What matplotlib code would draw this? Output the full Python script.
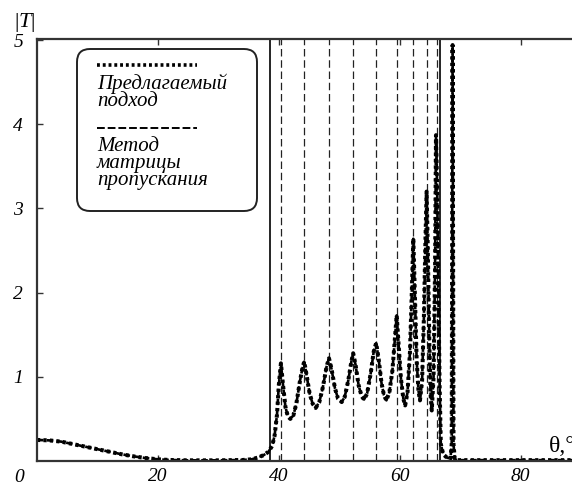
import matplotlib.pyplot as plt
from matplotlib.patches import FancyBboxPatch
from matplotlib.lines import Line2D

plt.rcParams['font.family'] = ['Liberation Serif', 'DejaVu Serif']
plt.rcParams['mathtext.fontset'] = 'custom'
plt.rcParams['mathtext.rm'] = 'Liberation Serif'
plt.rcParams['mathtext.it'] = 'Liberation Serif:italic'

# |T| versus incidence angle
theta = [0, 2, 4, 6, 8, 10, 12, 14, 16, 18, 20, 22, 25, 30, 34, 35.5, 36.5,
         37.5, 38.3, 38.9, 39.3, 39.7, 40.0, 40.35, 40.7, 41.1, 41.5, 41.9,
         42.4, 42.9, 43.5, 43.9, 44.2, 44.6, 45.1, 45.6, 46.1, 46.7, 47.3,
         47.9, 48.3, 48.7, 49.3, 49.8, 50.4, 50.9, 51.5, 52.0, 52.3, 52.7,
         53.2, 53.7, 54.1, 54.6, 55.2, 55.7, 56.1, 56.5, 57.0, 57.4, 57.8,
         58.3, 58.8, 59.2, 59.5, 59.8, 60.2, 60.6, 60.9, 61.3, 61.7, 62.0,
         62.25, 62.5, 62.8, 63.1, 63.35, 63.7, 64.0, 64.25, 64.45, 64.65,
         64.9, 65.1, 65.3, 65.6, 65.85, 66.0, 66.2, 66.4, 66.6, 66.8, 67.2,
         67.8, 68.4, 68.6, 68.75, 68.9, 69.1, 69.4, 70, 75, 80, 88.5]
t_abs = [0.25, 0.245, 0.23, 0.2, 0.17, 0.14, 0.11, 0.08, 0.055, 0.035, 0.02,
         0.012, 0.008, 0.008, 0.012, 0.02, 0.04, 0.07, 0.11, 0.18, 0.3, 0.55,
         0.9, 1.16, 0.9, 0.64, 0.53, 0.5, 0.54, 0.68, 0.95, 1.1, 1.18, 1.02,
         0.8, 0.68, 0.63, 0.7, 0.88, 1.12, 1.22, 1.1, 0.86, 0.74, 0.7, 0.76,
         0.96, 1.18, 1.28, 1.14, 0.9, 0.77, 0.73, 0.8, 1.04, 1.3, 1.4, 1.22,
         0.92, 0.78, 0.72, 0.82, 1.08, 1.45, 1.73, 1.4, 0.98, 0.74, 0.66,
         0.82, 1.3, 2.0, 2.64, 2.0, 1.2, 0.84, 0.72, 0.95, 1.7, 2.6, 3.2,
         2.5, 1.4, 0.8, 0.6, 1.0, 2.3, 3.87, 3.2, 2.0, 0.9, 0.2, 0.08, 0.04,
         0.03, 0.2, 4.94, 0.2, 0.03, 0.01, 0.01, 0.01, 0.01, 0.01]

solid_lines = [38.5, 66.7]
dashed_lines = [40.3, 44.1, 48.3, 52.3, 56.1, 59.5, 62.2, 64.45, 66.1]

x_ticks = [20, 40, 60, 80]
y_ticks = [1, 2, 3, 4, 5]

legend_labels = [['Предлагаемый', 'подход'],
                 ['Метод', 'матрицы', 'пропускания']]

fig = plt.figure(figsize=(5.72, 4.88), dpi=100)
ax = fig.add_axes([37/572, 27/488, 535/572, 422/488])
ax.set_xlim(0, 88.5)
ax.set_ylim(0, 5.012)

for x in solid_lines:
    ax.axvline(x, color='black', lw=1.2)
for x in dashed_lines:
    ax.axvline(x, color='#222222', lw=0.9, linestyle=(0, (6, 3)))

ax.plot(theta, t_abs, color='black', lw=1.9, linestyle=(0, (2.5, 1.2)))
ax.plot(theta, t_abs, color='black', lw=2.9, linestyle=(0, (0.8, 0.8)))

for side in ['left', 'bottom', 'top']:
    ax.spines[side].set_linewidth(1.6)
    ax.spines[side].set_color('#333333')
ax.spines['right'].set_visible(False)

ax.set_xticks(x_ticks)
ax.set_yticks(y_ticks)
ax.tick_params(direction='in', length=4, width=1, color='#333333',
               top=True, labelsize=14, pad=5)
ax.tick_params(axis='y', pad=10)
for lab in ax.get_xticklabels() + ax.get_yticklabels():
    lab.set_fontstyle('italic')

fig.text(19/572, 1 - 477/488, '0', fontsize=14, style='italic',
         ha='center', va='center')
fig.text(25/572, 1 - 22/488, r'$|T|$', fontsize=16, ha='center',
         va='center')
fig.text(549/572, 1 - 447/488, 'θ,°', fontsize=17, ha='left', va='center')

# legend drawn by hand: rounded frame, sample line above each label
tr = fig.dpi_scale_trans
box = FancyBboxPatch((0.77, 2.77), 1.80, 1.62,
                     boxstyle='round,pad=0,rounding_size=0.13',
                     transform=tr, facecolor='white', edgecolor='#222222',
                     lw=1.4)
fig.patches.append(box)
fig.add_artist(Line2D([0.97, 1.97], [4.23, 4.23], transform=tr,
                      color='black', lw=2.6, linestyle=(0, (0.8, 0.8))))
fig.add_artist(Line2D([0.97, 1.97], [3.60, 3.60], transform=tr,
                      color='black', lw=1.4, linestyle=(0, (4, 1.5))))
for lines, y0 in zip(legend_labels, [3.99, 3.37]):
    for i, s in enumerate(lines):
        fig.text(0.97, y0 - i * 0.17, s, transform=tr, fontsize=15,
                 style='italic', ha='left', va='baseline')

fig.savefig('out.png', dpi=100)
